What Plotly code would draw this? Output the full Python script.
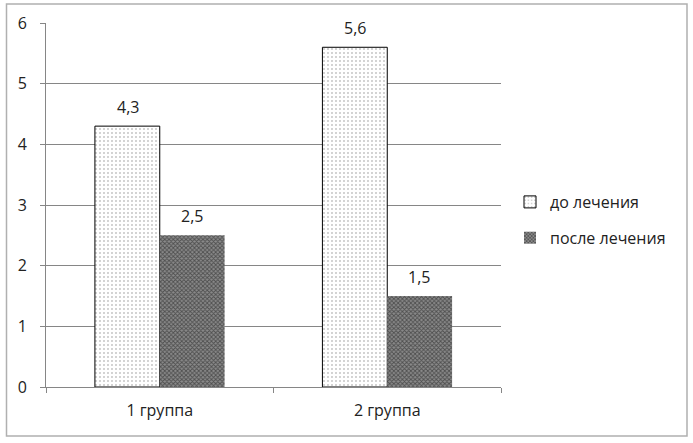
import plotly.graph_objects as go

categories = ["1 группа", "2 группа"]
before = [4.3, 5.6]
after = [2.5, 1.5]
series_names = ["до лечения", "после лечения"]

W, H = 693, 443
L, R, T, B = 46, 501, 23, 387
pw, ph = R - L, B - T

def px_x(p):
    return (p - L) / pw

def px_y(p):
    return (B - p) / ph

FAM = "Open Sans, Noto Sans, sans-serif"
font = dict(family=FAM, size=16, color="#222222")

fig = go.Figure()
fig.add_trace(go.Bar(
    name=series_names[0], x=categories, y=before,
    legendgroup="a",
    marker=dict(color="white",
                line=dict(color="black", width=1),
                pattern=dict(shape=".", size=4, solidity=0.08, fgcolor="black", bgcolor="white")),
))
fig.add_trace(go.Bar(
    name=series_names[1], x=categories, y=after,
    legendgroup="b",
    marker=dict(color="white",
                line=dict(color="#444444", width=0),
                pattern=dict(shape="x", size=3, solidity=0.5, fgcolor="#111111", bgcolor="#8a8a8a")),
))

# value labels, positioned from the data through the axes
for vals, shift in ((before, -32), (after, 32)):
    for c, v in zip(categories, vals):
        fig.add_annotation(x=c, y=v, xref="x", yref="y", text=f"{v:.1f}".replace(".", ","),
                           showarrow=False, xshift=shift, yshift=19, font=font)

fig.update_layout(
    width=W, height=H,
    margin=dict(l=L, r=W - R, t=T, b=H - B, pad=0),
    paper_bgcolor="white", plot_bgcolor="white",
    separators=", ",
    barmode="group", bargap=0.43, bargroupgap=0,
    font=font,
    showlegend=True,
    legend=dict(x=px_x(510), y=px_y(220), xanchor="left", yanchor="middle",
                font=dict(family=FAM, size=16, color="#222222"),
                tracegroupgap=12, itemwidth=30, bgcolor="rgba(0,0,0,0)"),
    xaxis=dict(showline=True, linecolor="#868686", linewidth=1,
               ticks="outside", ticklen=5, tickcolor="#868686",
               tickson="boundaries", showgrid=False, tickfont=font,
               ticklabelstandoff=9),
    yaxis=dict(range=[0, 6], dtick=1, showline=True, linecolor="#868686", linewidth=1,
               ticks="outside", ticklen=5, tickcolor="#868686",
               gridcolor="#868686", gridwidth=1, zeroline=False, tickfont=font,
               ticklabelstandoff=10),
    shapes=[dict(type="rect", xref="paper", yref="paper",
                 x0=px_x(6.5), x1=px_x(687), y0=px_y(436), y1=px_y(4),
                 line=dict(color="#b0b0b0", width=1.5), fillcolor="rgba(0,0,0,0)", layer="below")],
)

fig.write_html("out.html", config={"displayModeBar": False},
               post_script="document.body.style.margin='0';")
